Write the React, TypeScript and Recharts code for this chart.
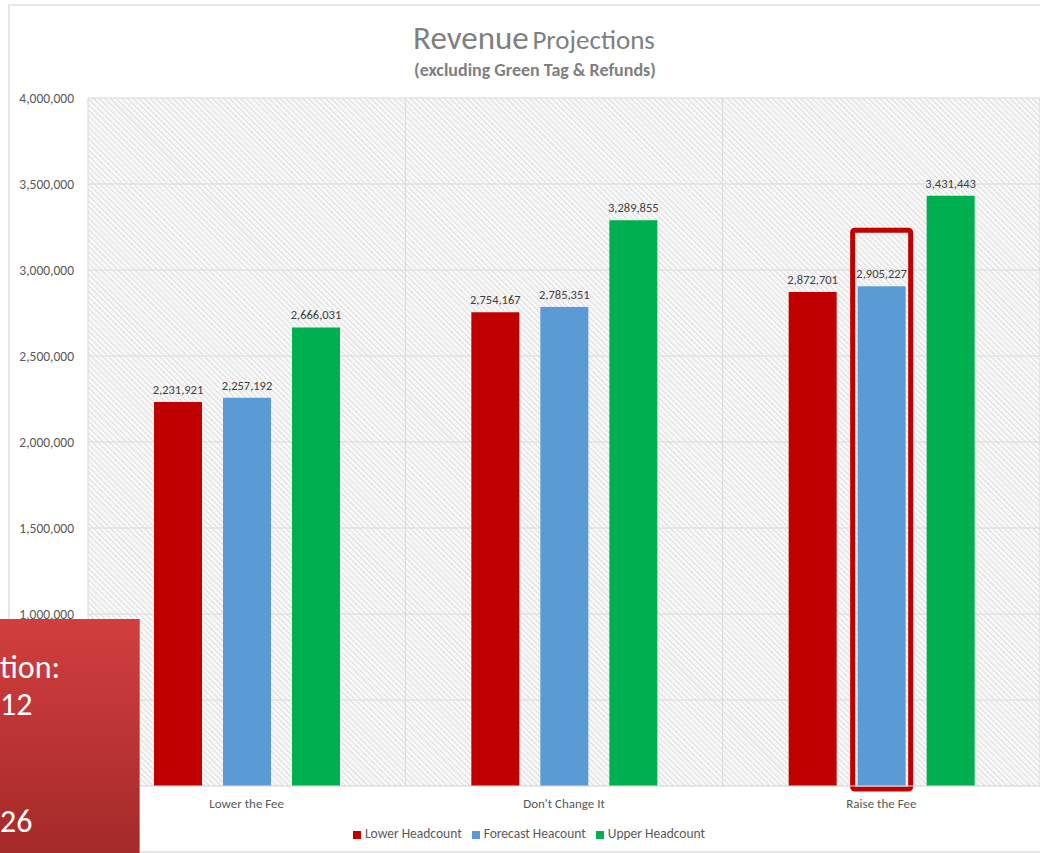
import { BarChart, Bar, XAxis, YAxis, CartesianGrid, Legend, LabelList } from 'recharts';

const categories = ['Lower the Fee', "Don't Change It", 'Raise the Fee'];
const lowerHeadcount = [2231921, 2754167, 2872701];
const forecastHeadcount = [2257192, 2785351, 2905227];
const upperHeadcount = [2666031, 3289855, 3431443];
const seriesNames = ['Lower Headcount', 'Forecast Heacount', 'Upper Headcount'];
const yTicks = [0, 500000, 1000000, 1500000, 2000000, 2500000, 3000000, 3500000, 4000000];
const highlightIndex = 2;

const data = categories.map((name, i) => ({
  name,
  lower: lowerHeadcount[i],
  forecast: forecastHeadcount[i],
  upper: upperHeadcount[i],
}));

const font = "Carlito, Lato, 'Open Sans', sans-serif";
const fmt = (v: number) => v.toLocaleString('en-US');

// blue bar; the highlighted one gets the red outline drawn around it
function ForecastShape(props: any) {
  const { x, y, width, height, fill, index } = props;
  return (
    <g>
      <rect x={x} y={y} width={width} height={height} fill={fill} />
      {index === highlightIndex && (
        <rect
          x={x - 5}
          y={y - 56}
          width={width + 10}
          height={height + 59}
          fill="none"
          stroke="#C00000"
          strokeWidth={5}
          rx={2}
        />
      )}
    </g>
  );
}

export default function App() {
  return (
    <div
      style={{
        position: 'fixed',
        top: 0,
        left: 0,
        width: 1040,
        height: 853,
        overflow: 'hidden',
        background: '#fff',
        fontFamily: font,
      }}
    >
      <div
        style={{
          position: 'absolute',
          left: 8,
          top: 4,
          width: 1100,
          height: 845,
          border: '2px solid #e6e6e6',
        }}
      />
      <div
        style={{
          position: 'absolute',
          top: 18,
          left: 0,
          width: 1068,
          textAlign: 'center',
          color: '#7f7f7f',
          lineHeight: '40px',
        }}
      >
        <span style={{ fontSize: 33 }}>Revenue</span> <span style={{ fontSize: 27 }}>Projections</span>
      </div>
      <div
        style={{
          position: 'absolute',
          top: 58,
          left: 0,
          width: 1070,
          textAlign: 'center',
          color: '#7f7f7f',
          fontSize: 18,
          fontWeight: 600,
          lineHeight: '24px',
        }}
      >
        (excluding Green Tag &amp; Refunds)
      </div>
      <BarChart
        width={1040}
        height={853}
        data={data}
        margin={{ top: 98, right: 0, bottom: 11, left: 5 }}
        barSize={48}
        barGap={21}
        style={{ fontFamily: font }}
      >
        <defs>
          <pattern id="hatch" width={4} height={4} patternUnits="userSpaceOnUse" patternTransform="rotate(-45)">
            <rect width={4} height={4} fill="#f9f9f9" />
            <rect width={1.1} height={4} fill="#dedede" />
          </pattern>
        </defs>
        <CartesianGrid
          fill="url(#hatch)"
          fillOpacity={1}
          stroke="#d9d9d9"
          verticalCoordinatesGenerator={({ offset }: any) =>
            [0, 1, 2, 3].map((i) => offset.left + (offset.width * i) / 3)
          }
        />
        <XAxis
          dataKey="name"
          height={39}
          tickLine={false}
          axisLine={{ stroke: '#e0e0e0' }}
          tick={{ fontSize: 13, fill: '#595959' }}
          tickMargin={7}
        />
        <YAxis
          width={83}
          domain={[0, 4000000]}
          ticks={yTicks}
          tickFormatter={fmt}
          axisLine={false}
          tickLine={false}
          tick={{ fontSize: 13.5, fill: '#595959' }}
          tickMargin={8}
        />
        <Legend
          verticalAlign="bottom"
          iconType="square"
          iconSize={8}
          itemSorter={(item: any) => seriesNames.indexOf(item.value)}
          wrapperStyle={{ left: 0, width: 1068, fontSize: 13.5 }}
          formatter={(value: string) => <span style={{ color: '#595959' }}>{value}</span>}
        />
        <Bar dataKey="lower" name={seriesNames[0]} fill="#C00000" isAnimationActive={false}>
          <LabelList dataKey="lower" position="top" offset={8} formatter={fmt} style={{ fontSize: 12.5, fill: '#404040' }} />
        </Bar>
        <Bar dataKey="forecast" name={seriesNames[1]} fill="#5B9BD5" shape={ForecastShape} isAnimationActive={false}>
          <LabelList dataKey="forecast" position="top" offset={8} formatter={fmt} style={{ fontSize: 12.5, fill: '#404040' }} />
        </Bar>
        <Bar dataKey="upper" name={seriesNames[2]} fill="#00B050" isAnimationActive={false}>
          <LabelList dataKey="upper" position="top" offset={8} formatter={fmt} style={{ fontSize: 12.5, fill: '#404040' }} />
        </Bar>
      </BarChart>
      <div
        style={{
          position: 'absolute',
          left: 0,
          top: 619,
          width: 139,
          height: 234,
          background: 'linear-gradient(to bottom, #d23e3e, #a52a2a)',
          borderRight: '1px solid #e07070',
          color: '#fff',
          fontSize: 32,
          lineHeight: '36px',
        }}
      >
        <div style={{ position: 'absolute', left: 0, top: 31 }}>tion:</div>
        <div style={{ position: 'absolute', left: 0, top: 68 }}>12</div>
        <div style={{ position: 'absolute', left: 0, top: 185 }}>26</div>
      </div>
    </div>
  );
}
